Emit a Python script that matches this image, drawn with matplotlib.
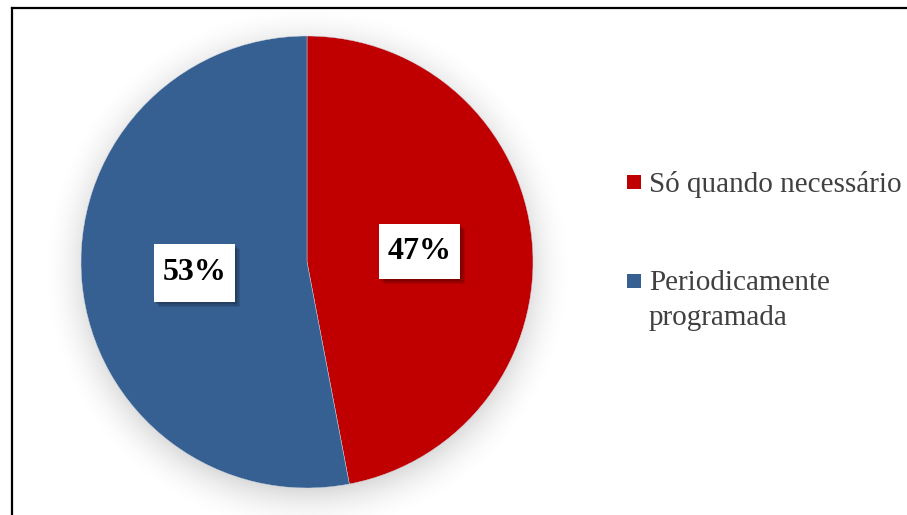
import numpy as np
import matplotlib
matplotlib.use("Agg")
import matplotlib.pyplot as plt
from matplotlib.patches import Rectangle

categories = ["Só quando necessário", "Periodicamente\nprogramada"]
values = [47, 53]
colors = ["#C00000", "#366092"]
pct_labels = ["47%", "53%"]

W, H = 907, 515
fig = plt.figure(figsize=(W / 100, H / 100), dpi=100)
ax = fig.add_axes([0, 0, 1, 1])
ax.set_xlim(0, W)
ax.set_ylim(0, H)
ax.set_aspect("equal")
ax.axis("off")

def py(y):
    # convert a top-down pixel row into data y
    return H - y

cx, cy, R = 307, py(262), 226

# soft drop shadow under the pie
xs = np.arange(0, W)
ys = np.arange(0, H)
X, Y = np.meshgrid(xs, ys)
d = np.hypot(X - cx, Y - (cy - 8))
t = np.clip((d - (R - 15)) / 55.0, 0, 1)
alpha = 0.30 * (1 - t) ** 2
img = np.zeros((H, W, 4))
img[..., :3] = 0.35
img[..., 3] = alpha
ax.imshow(img, extent=(0, W, 0, H), origin="lower", zorder=1, interpolation="bilinear")

wedges, _ = ax.pie(values, colors=colors, startangle=90, counterclock=False,
                   center=(cx, cy), radius=R, frame=True,
                   wedgeprops=dict(linewidth=0.3, edgecolor="#d0d8e4", zorder=2))
for w in wedges:
    w.set_zorder(2)
ax.set_xlim(0, W)
ax.set_ylim(0, H)
ax.axis("off")

# data labels in white boxes with a small shadow
box_centers = [(419.5, 251.5), (194.5, 273)]
box_sizes = [(81, 55), (81, 58)]
for lab, (bx, by), (bw, bh) in zip(pct_labels, box_centers, box_sizes):
    x0, y0 = bx - bw / 2, py(by + bh / 2)
    for k, a in enumerate([0.10, 0.12, 0.15]):
        off = 5 - k * 1.5
        ax.add_patch(Rectangle((x0 + off, y0 - off), bw, bh, facecolor="black",
                               edgecolor="none", alpha=a, zorder=3))
    ax.add_patch(Rectangle((x0, y0), bw, bh, facecolor="white",
                           edgecolor="none", zorder=4))
    ax.text(bx, py(by), lab, ha="center", va="center", fontsize=23,
            fontweight="bold", family="Liberation Serif", color="black", zorder=5)

# legend
leg_items = [(175, 192, [192]), (274, 290, [290, 325])]
for (sq_top, _, baselines), cat, col in zip(leg_items, categories, colors):
    ax.add_patch(Rectangle((627, py(sq_top + 14)), 14, 14, facecolor=col,
                           edgecolor="none", zorder=4))
    for line, base in zip(cat.split("\n"), baselines):
        ax.text(649, py(base), line, ha="left", va="baseline", fontsize=21,
                family="Liberation Serif", color="#404040", zorder=5)

# chart frame
ax.plot([12, W + 5], [py(8), py(8)], color="black", lw=1.6, zorder=6,
        solid_capstyle="projecting", clip_on=False)
ax.plot([12, 12], [py(8), -5], color="black", lw=1.6, zorder=6,
        solid_capstyle="projecting", clip_on=False)

fig.savefig("out.png", dpi=100)
